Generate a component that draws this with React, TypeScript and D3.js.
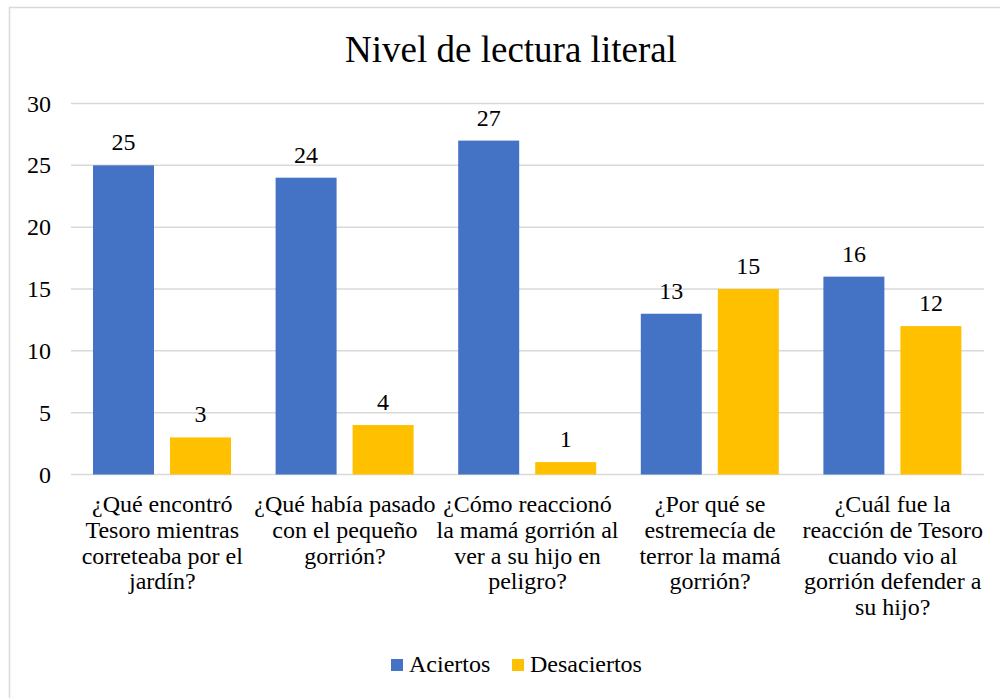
import React from "react";
import * as d3 from "d3";

const categories: string[][] = [
  ["¿Qué encontró", "Tesoro mientras", "correteaba por el", "jardín?"],
  ["¿Qué había pasado", "con el pequeño", "gorrión?"],
  ["¿Cómo reaccionó", "la mamá gorrión al", "ver a su hijo en", "peligro?"],
  ["¿Por qué se", "estremecía de", "terror la mamá", "gorrión?"],
  ["¿Cuál fue la", "reacción de Tesoro", "cuando vio al", "gorrión defender a", "su hijo?"],
];
const seriesNames = ["Aciertos", "Desaciertos"];
const aciertos = [25, 24, 27, 13, 16];
const desaciertos = [3, 4, 1, 15, 12];
const yTicks = [0, 5, 10, 15, 20, 25, 30];
const colors = ["#4472C4", "#FFC000"];

const W = 1000;
const H = 698;
const FONT = "Liberation Serif";

export default function App() {
  const left = 71;
  const right = 984;
  const top = 103.5;
  const bottom = 474.5;
  const idx = categories.map((_, i) => String(i));
  const x0 = d3.scaleBand<string>().domain(idx).range([left, right]).padding(0);
  const x1 = d3.scaleBand<string>().domain(seriesNames).range([22, 160]).paddingInner(0.208).paddingOuter(0);
  const y = d3.scaleLinear().domain([0, 30]).range([bottom, top]);
  const values = [aciertos, desaciertos];

  return (
    <svg width={W} height={H} style={{ position: "absolute", left: 0, top: 0, background: "#fff" }}>
      <rect x={9.5} y={7.5} width={1000} height={700} fill="#fff" stroke="#d9d9d9" strokeWidth={1.5} />
      <text x={511} y={62} textAnchor="middle" fontSize={37} fontFamily={FONT} fill="#000">Nivel de lectura literal</text>
      {yTicks.map((t) => (
        <g key={t}>
          <line x1={left} x2={right} y1={y(t)} y2={y(t)} stroke="#d9d9d9" strokeWidth={1.5} />
          <text x={51} y={y(t) + 8} textAnchor="end" fontSize={24} fontFamily={FONT} fill="#000">{t}</text>
        </g>
      ))}
      {idx.map((c, ci) => (
        <g key={c}>
          {seriesNames.map((s, si) => {
            const v = values[si][ci];
            const bx = (x0(c) as number) + (x1(s) as number);
            return (
              <g key={s}>
                <rect x={bx} y={y(v)} width={x1.bandwidth()} height={y(0) - y(v)} fill={colors[si]} />
                <text x={bx + x1.bandwidth() / 2} y={y(v) - 15} textAnchor="middle" fontSize={24} fontFamily={FONT} fill="#000">{v}</text>
              </g>
            );
          })}
          {categories[ci].map((ln, li) => (
            <text key={li} x={(x0(c) as number) + x0.bandwidth() / 2} y={512 + li * 25.8} textAnchor="middle" fontSize={24} fontFamily={FONT} fill="#000">{ln}</text>
          ))}
        </g>
      ))}
      {seriesNames.map((s, si) => {
        const lx = si === 0 ? 391 : 512;
        return (
          <g key={s}>
            <rect x={lx} y={659} width={12} height={12} fill={colors[si]} />
            <text x={lx + 18} y={671.5} fontSize={24} fontFamily={FONT} fill="#000">{s}</text>
          </g>
        );
      })}
    </svg>
  );
}
